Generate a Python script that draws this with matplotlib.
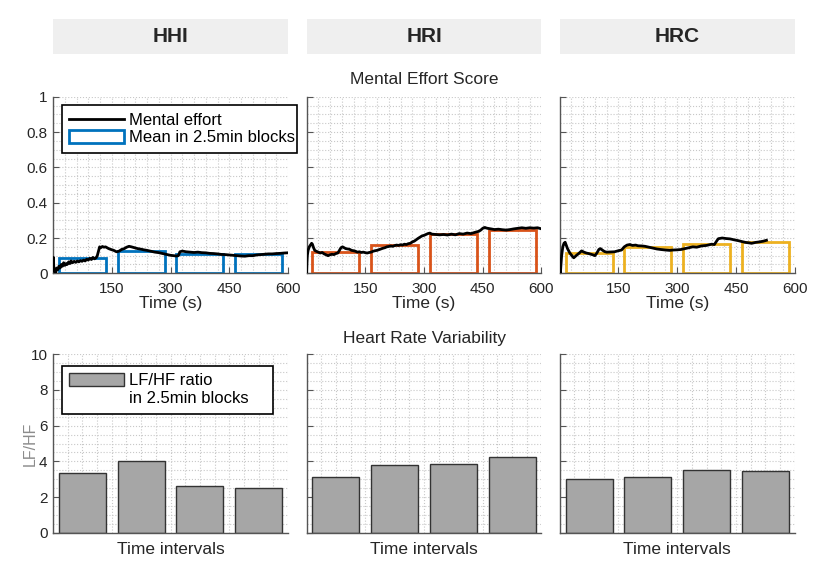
"""Mental effort score and LF/HF ratio per condition (HHI, HRI, HRC)."""
import matplotlib
matplotlib.use("Agg")
import matplotlib.pyplot as plt
from matplotlib.lines import Line2D
from matplotlib.patches import Patch, Rectangle
from matplotlib.ticker import MultipleLocator, FuncFormatter

plt.rcParams["font.family"] = ["Liberation Sans", "DejaVu Sans"]

conditions = ["HHI", "HRI", "HRC"]
colors = ["#0072BD", "#D95319", "#EDB120"]

# mental effort curves (time in s, score)
hhi_t = [0, 1, 2, 3, 5, 7, 9, 12, 15, 18, 21, 24, 27, 30, 33, 36, 40, 43, 46, 50,
         54, 58, 62, 66, 70, 74, 78, 82, 86, 90, 94, 98, 102, 106, 110, 113, 116,
         119, 122, 126, 130, 134, 138, 142, 148, 155, 162, 168, 175, 182, 188, 194,
         200, 208, 216, 224, 232, 240, 250, 260, 270, 280, 290, 300, 308, 315, 320,
         324, 330, 340, 350, 360, 370, 380, 390, 400, 410, 420, 430, 440, 450, 460,
         470, 480, 490, 500, 510, 520, 530, 540, 550, 560, 570, 580, 590, 598]
hhi_v = [0.06, 0.09, 0.03, 0.01, 0.02, 0.005, 0.03, 0.02, 0.04, 0.03, 0.05, 0.04,
         0.06, 0.045, 0.055, 0.05, 0.065, 0.055, 0.07, 0.06, 0.068, 0.062, 0.07,
         0.065, 0.072, 0.068, 0.075, 0.07, 0.08, 0.075, 0.085, 0.078, 0.09, 0.082,
         0.088, 0.1, 0.125, 0.15, 0.145, 0.152, 0.148, 0.15, 0.145, 0.14, 0.135,
         0.13, 0.122, 0.125, 0.135, 0.14, 0.148, 0.153, 0.15, 0.145, 0.14, 0.137,
         0.133, 0.13, 0.125, 0.12, 0.117, 0.112, 0.107, 0.102, 0.1, 0.098, 0.1,
         0.122, 0.126, 0.122, 0.12, 0.118, 0.12, 0.117, 0.116, 0.113, 0.112, 0.11,
         0.107, 0.106, 0.104, 0.102, 0.1, 0.098, 0.097, 0.1, 0.1, 0.104, 0.106,
         0.108, 0.11, 0.11, 0.112, 0.113, 0.115, 0.116]

hri_t = [0, 1, 2, 4, 7, 10, 13, 15, 18, 21, 25, 30, 35, 40, 45, 50, 55, 60, 65, 70,
         75, 80, 84, 88, 92, 96, 100, 105, 110, 115, 120, 125, 130, 135, 140, 145,
         150, 155, 160, 165, 170, 175, 180, 185, 190, 195, 200, 205, 210, 215, 220,
         225, 230, 235, 240, 245, 250, 255, 260, 265, 270, 275, 280, 285, 290, 295,
         300, 305, 310, 315, 320, 330, 340, 350, 360, 370, 380, 390, 400, 410, 420,
         430, 440, 445, 450, 455, 460, 470, 480, 490, 500, 510, 520, 530, 540, 550,
         560, 570, 580, 590, 598]
hri_v = [0.0, 0.06, 0.1, 0.13, 0.15, 0.16, 0.17, 0.165, 0.145, 0.13, 0.125, 0.12,
         0.115, 0.118, 0.11, 0.105, 0.1, 0.105, 0.108, 0.106, 0.112, 0.115, 0.13,
         0.145, 0.15, 0.145, 0.14, 0.138, 0.136, 0.13, 0.128, 0.125, 0.12, 0.122,
         0.118, 0.12, 0.117, 0.115, 0.118, 0.12, 0.125, 0.128, 0.13, 0.134, 0.138,
         0.142, 0.145, 0.15, 0.152, 0.155, 0.153, 0.157, 0.16, 0.158, 0.162, 0.16,
         0.165, 0.163, 0.168, 0.17, 0.178, 0.182, 0.19, 0.198, 0.205, 0.212, 0.215,
         0.22, 0.225, 0.228, 0.222, 0.22, 0.218, 0.22, 0.217, 0.222, 0.218, 0.225,
         0.222, 0.228, 0.225, 0.232, 0.238, 0.245, 0.255, 0.26, 0.256, 0.252, 0.248,
         0.25, 0.247, 0.245, 0.248, 0.252, 0.255, 0.258, 0.255, 0.258, 0.256, 0.258,
         0.253]

hrc_t = [0, 1, 2, 3, 5, 8, 11, 14, 20, 26, 33, 36, 42, 50, 56, 62, 68, 74, 80, 86,
         90, 95, 100, 104, 110, 115, 120, 130, 140, 150, 158, 165, 172, 179, 186,
         194, 200, 210, 218, 228, 238, 248, 258, 270, 281, 290, 300, 310, 320, 330,
         340, 350, 362, 375, 388, 395, 400, 405, 415, 425, 435, 445, 456, 465, 475,
         485, 490, 500, 510, 520, 528]
hrc_v = [0.07, 0.02, 0.005, 0.04, 0.1, 0.15, 0.17, 0.176, 0.14, 0.115, 0.095, 0.088,
         0.1, 0.115, 0.127, 0.12, 0.115, 0.112, 0.108, 0.104, 0.1, 0.115, 0.135,
         0.14, 0.13, 0.123, 0.12, 0.121, 0.122, 0.128, 0.132, 0.15, 0.16, 0.163,
         0.158, 0.16, 0.156, 0.155, 0.153, 0.148, 0.143, 0.138, 0.135, 0.132, 0.13,
         0.132, 0.133, 0.135, 0.14, 0.145, 0.15, 0.148, 0.155, 0.158, 0.165, 0.163,
         0.18, 0.196, 0.2, 0.197, 0.195, 0.19, 0.185, 0.18, 0.175, 0.172, 0.17,
         0.175, 0.178, 0.182, 0.187]

# 2.5 min blocks
block_start = [15, 165, 315, 465]
block_width = 120
hhi_block = [0.084, 0.127, 0.11, 0.107]
hri_block = [0.121, 0.159, 0.22, 0.245]
hrc_block = [0.116, 0.149, 0.168, 0.177]

# LF/HF ratio per block
intervals = [1, 2, 3, 4]
hhi_lfhf = [3.37, 4.04, 2.64, 2.51]
hri_lfhf = [3.15, 3.82, 3.85, 4.26]
hrc_lfhf = [3.02, 3.15, 3.50, 3.46]

curves = [(hhi_t, hhi_v), (hri_t, hri_v), (hrc_t, hrc_v)]
blocks = [hhi_block, hri_block, hrc_block]
lfhf = [hhi_lfhf, hri_lfhf, hrc_lfhf]

AX_COL = "#555555"
GRID_KW = dict(color="#c8c8c8", linestyle=":", linewidth=0.8)


def style_axes(ax, xpad=4):
    for s in ["top", "right"]:
        ax.spines[s].set_visible(False)
    for s in ["left", "bottom"]:
        ax.spines[s].set_color(AX_COL)
        ax.spines[s].set_linewidth(1.0)
    ax.tick_params(which="major", direction="in", length=4, color=AX_COL,
                   labelcolor="#262626", labelsize=11, pad=4)
    ax.tick_params(axis="x", which="major", pad=xpad)
    ax.tick_params(which="minor", length=0)
    ax.grid(True, which="both", **GRID_KW)
    ax.set_axisbelow(True)


def boxed_legend(ax, handles, labels, anchor):
    leg = ax.legend(handles, labels, loc="upper left", bbox_to_anchor=anchor,
                    mode="expand", fontsize=12, handlelength=3.3, handleheight=0.8,
                    handletextpad=0.3, borderpad=0.45, labelspacing=0.15,
                    borderaxespad=0, fancybox=False, framealpha=1)
    leg.get_frame().set_edgecolor("black")
    leg.get_frame().set_linewidth(1.2)
    return leg


fig = plt.figure(figsize=(8.3, 5.77), dpi=100)

lefts = [0.0639, 0.3693, 0.6743]
w = 0.2831

for i, cond in enumerate(conditions):
    # header strip
    fig.patches.append(Rectangle((lefts[i], 0.906), w, 0.0607, transform=fig.transFigure,
                                 facecolor="#efefef", edgecolor="none"))
    fig.text(lefts[i] + w / 2, 0.906 + 0.0607 / 2, cond, ha="center", va="center",
             fontsize=15, fontweight="bold", color="#262626")

    # mental effort
    ax = fig.add_axes([lefts[i], 0.5263, w, 0.306])
    t, v = curves[i]
    ax.bar(block_start, blocks[i], width=block_width, align="edge", fill=False,
           edgecolor=colors[i], linewidth=2, zorder=2)
    ax.plot(t, v, color="black", linewidth=2, zorder=3)
    ax.set_xlim(0, 600)
    ax.set_ylim(0, 1)
    ax.set_xticks([150, 300, 450, 600])
    ax.set_yticks([0, 0.2, 0.4, 0.6, 0.8, 1])
    ax.xaxis.set_minor_locator(MultipleLocator(30))
    ax.yaxis.set_minor_locator(MultipleLocator(0.05))
    ax.yaxis.set_major_formatter(FuncFormatter(lambda y, p: f"{y:g}"))
    style_axes(ax, xpad=6)
    ax.set_xlabel("Time (s)", fontsize=12.5, labelpad=0, color="#262626")
    if i > 0:
        ax.tick_params(labelleft=False)
    if i == 1:
        ax.set_title("Mental Effort Score", fontsize=12.5, pad=9, color="#262626")
    if i == 0:
        handles = [Line2D([], [], color="black", linewidth=2),
                   Patch(facecolor="none", edgecolor=colors[0], linewidth=2)]
        boxed_legend(ax, handles, ["Mental effort", "Mean in 2.5min blocks"],
                     (0.038, 0.953, 1.0, 0.0))

    # heart rate variability
    ax2 = fig.add_axes([lefts[i], 0.0763, w, 0.310])
    ax2.bar(intervals, lfhf[i], width=0.8, color="#a6a6a6", edgecolor="#333333",
            linewidth=1.0, zorder=2)
    ax2.set_xlim(0.5, 4.5)
    ax2.set_ylim(0, 10)
    ax2.set_xticks([])
    ax2.set_yticks([0, 2, 4, 6, 8, 10])
    ax2.xaxis.set_minor_locator(MultipleLocator(0.25))
    ax2.yaxis.set_minor_locator(MultipleLocator(0.5))
    style_axes(ax2)
    ax2.set_xlabel("Time intervals", fontsize=12.5, labelpad=3, color="#262626")
    if i > 0:
        ax2.tick_params(labelleft=False)
    if i == 1:
        ax2.set_title("Heart Rate Variability", fontsize=12.5, pad=8, color="#262626")
    if i == 0:
        ax2.set_ylabel("LF/HF", fontsize=11.5, color="#8c8c8c", labelpad=-5)
        handles = [Patch(facecolor="#a6a6a6", edgecolor="#333333", linewidth=1.0),
                   Patch(visible=False)]
        boxed_legend(ax2, handles, ["LF/HF ratio", "in 2.5min blocks"],
                     (0.038, 0.935, 0.898, 0.0))

fig.savefig("out.png", dpi=100)
